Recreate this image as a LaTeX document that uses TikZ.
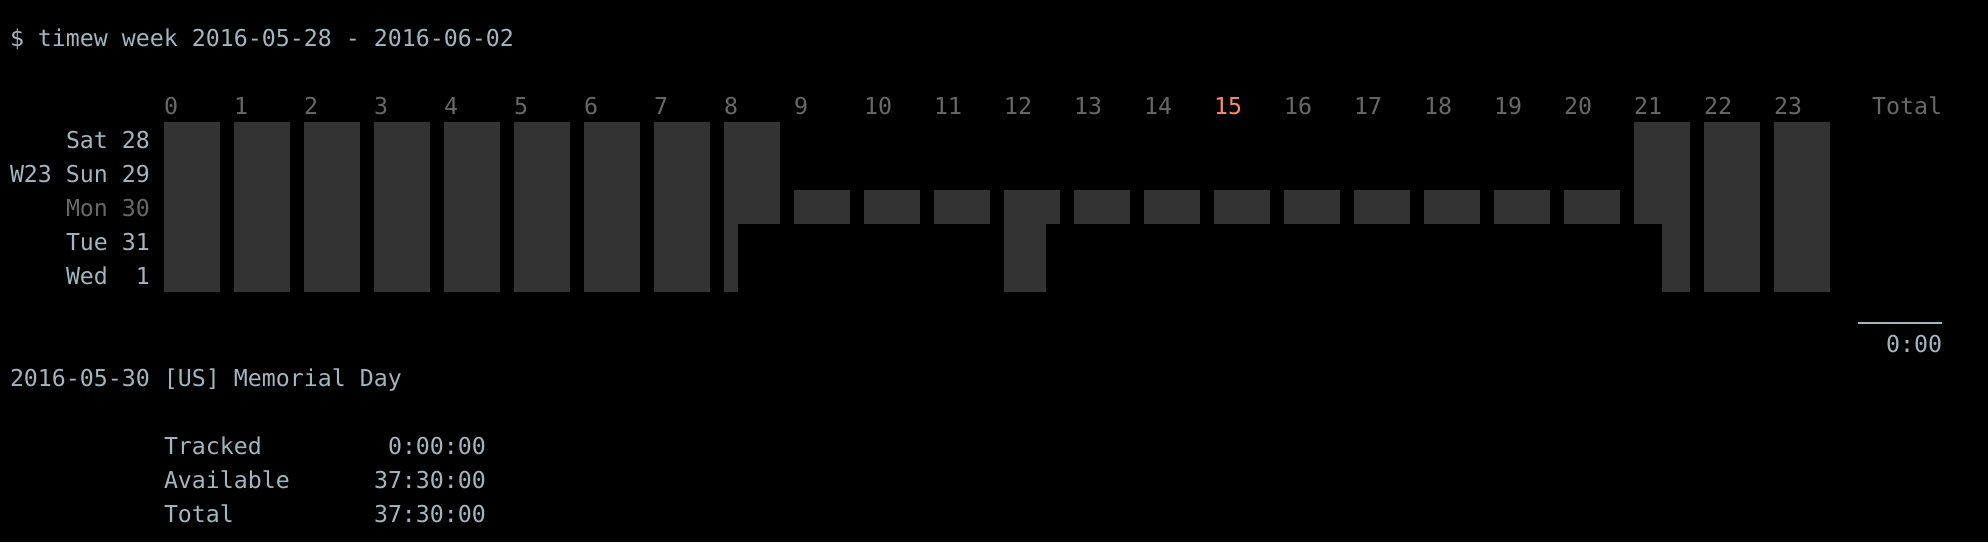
\documentclass[tikz,border=0pt]{standalone}
\usepackage{fontspec}
\newfontfamily\tmono{DejaVu Sans Mono}
\definecolor{termbg}{HTML}{000000}
\definecolor{termfg}{HTML}{A0B6C0}
\definecolor{termdim}{HTML}{686868}
\definecolor{termhi}{HTML}{FF8A6A}
\definecolor{termbar}{HTML}{333333}
\begin{document}
\begin{tikzpicture}[x=1pt,y=-1pt,
  txt/.style={anchor=base west, inner sep=0pt, outer sep=0pt,
    font=\tmono\fontsize{23.25pt}{34pt}\selectfont, text=termfg},
  dimtxt/.style={txt, text=termdim},
  hitxt/.style={txt, text=termhi},
  bar/.style={fill=termbar}]
\useasboundingbox (0,0) rectangle (1988,542);
\fill[termbg] (0,0) rectangle (1988,542);

% command line
\node[txt] (cmd) at (10,46) {\$ timew week 2016-05-28 - 2016-06-02};

% hour header
\foreach \h in {0,...,23}{
  \ifnum\h=15
    \node[hitxt] (h\h) at ({164+70*\h},114) {\h};
  \else
    \node[dimtxt] (h\h) at ({164+70*\h},114) {\h};
  \fi
}
\node[dimtxt] (totalhead) at (1872,114) {Total};

% day labels
\node[txt] (sat) at (66,148) {Sat 28};
\node[txt] (sun) at (10,182) {W23 Sun 29};
\node[dimtxt] (mon) at (66,216) {Mon 30};
\node[txt] (tue) at (66,250) {Tue 31};
\node[txt] (wed) at (66,284) {Wed\ \ 1};

% bars: Sat, Sun
\foreach \r in {0,1}{
  \foreach \h in {0,1,2,3,4,5,6,7,8,21,22,23}{
    \fill[bar] ({164+70*\h},{122+34*\r}) rectangle +(56,34);
  }
}
% Mon
\foreach \h in {0,...,23}{
  \fill[bar] ({164+70*\h},{122+34*2}) rectangle +(56,34);
}
% Tue, Wed
\foreach \r in {3,4}{
  \foreach \h in {0,1,2,3,4,5,6,7,22,23}{
    \fill[bar] ({164+70*\h},{122+34*\r}) rectangle +(56,34);
  }
  \fill[bar] (724,{122+34*\r}) rectangle +(14,34);
  \fill[bar] (1004,{122+34*\r}) rectangle +(42,34);
  \fill[bar] (1662,{122+34*\r}) rectangle +(28,34);
}

% total
\draw[termfg, line width=2pt] (1858,323) -- (1942,323);
\node[txt] (totalval) at (1886,352) {0:00};

% holiday
\node[txt] (holiday) at (10,386) {2016-05-30 [US] Memorial Day};

% summary
\node[txt] (trk) at (164,454) {Tracked};
\node[txt] (trkv) at (388,454) {0:00:00};
\node[txt] (avl) at (164,488) {Available};
\node[txt] (avlv) at (374,488) {37:30:00};
\node[txt] (tot) at (164,522) {Total};
\node[txt] (totv) at (374,522) {37:30:00};
\end{tikzpicture}
\end{document}
